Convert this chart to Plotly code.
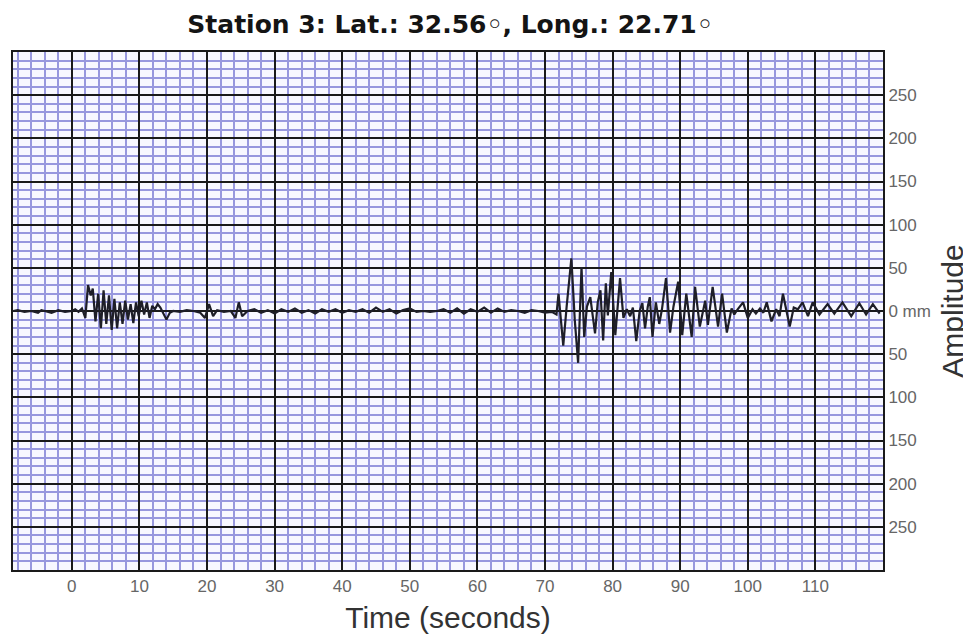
import plotly.graph_objects as go

# Time (s) and amplitude (mm)
time_s = [
    -8.7, -8, -7, -6, -5, -4.5, -4, -3, -2, -1, 0, 0.5, 1, 1.5,
    2.0, 2.4, 2.8, 3.1, 3.5, 3.9, 4.3, 4.7, 5.1, 5.5, 5.9, 6.3, 6.7, 7.1, 7.5, 7.9,
    8.3, 8.7, 9.1, 9.5, 9.9, 10.3, 10.7, 11.1, 11.5, 11.9, 12.3, 12.7, 13.1, 13.5, 14.0, 14.5, 15,
    16, 17, 18, 19, 19.7, 20.3, 20.9, 21.5, 22.5, 23.5, 24.2, 24.7, 25.2, 26, 27, 28, 29, 30,
    31, 32, 33, 34, 35, 36, 37, 38, 39, 40, 41, 42, 43, 44, 45, 46, 47, 48, 49, 50,
    51, 52, 53, 54, 55, 56, 57, 58, 59, 60, 61, 62, 63, 64, 65, 66, 67, 68, 69, 70, 71, 71.7,
    72.0, 72.7, 73.2, 73.9, 74.4, 74.9, 75.4, 75.8, 76.2, 76.7, 77.1, 77.4, 77.8, 78.2, 78.6,
    79.0, 79.3, 79.8, 80.4, 81.1, 81.6, 82.1, 82.6, 83.0, 83.5, 84.0, 84.4, 84.8, 85.2, 85.5,
    85.9, 86.4, 86.9, 87.3, 87.9, 88.5, 89.0, 89.7, 90.3, 90.9, 91.7, 92.2, 92.9, 93.7, 94.1,
    94.8, 95.6, 96.2, 96.9, 97.6, 98.0, 98.5, 99.3, 100.0, 100.7, 101.2, 101.8, 102.3, 102.8,
    103.5, 104.2, 104.7, 105.2, 105.7, 106.2, 106.8, 107.4, 108.1, 108.9, 109.6, 110.6, 111.8,
    112.8, 114.0, 115.3, 116.5, 117.5, 118.5, 119.5,
]
amplitude_mm = [
    0, 1, -1, 0, -2, 1, 0, -2, 1, -1, 0, 2, -1, 3,
    -8, 30, 18, 26, -12, 20, -20, 24, -15, 18, -22, 14, -20, 10, -15, 12,
    -10, 8, -14, 10, -6, 12, -4, 10, -8, 6, 2, 8, 4, -2, -10, -2, 0,
    -1, 1, 0, -2, -8, 8, -6, 1, -1, 0, -8, 10, -6, 0, 2, -2, 1, -3,
    2, -1, 3, -2, 1, -3, 2, -1, 2, -2, 1, -1, 2, -2, 4, -1, 2, -3, 1, 3,
    -1, 0, -1, 0, 2, -2, 3, -3, 2, -1, 4, -2, 3, -1, 1, 0, -2, 1, 0, -2, -1, -4,
    20, -40, 5, 61, -10, -60, 51, -30, 5, 16, -8, -26, 10, 24, -34,
    32, -5, 45, -28, 38, -8, 2, -6, 4, -35, 0, 9, -20, 5, 16,
    -30, 10, -15, 2, 38, -25, 5, 34, -28, 20, -30, 28, -18, 12, -16,
    28, -18, 20, -25, 3, -4, 2, 10, -8, 2, -3, 3, -2, 10,
    -12, 2, -6, 20, 0, -18, 4, 2, 10, -6, 10, -4, 8,
    -3, 10, -6, 9, -4, 8, -3,
]

x_tick_vals = [0, 10, 20, 30, 40, 50, 60, 70, 80, 90, 100, 110]
y_tick_vals = [250, 200, 150, 100, 50, 0, -50, -100, -150, -200, -250]
y_tick_text = ["250", "200", "150", "100", "50", "0 mm", "50", "100", "150", "200", "250"]

fig = go.Figure()
fig.add_trace(go.Scatter(
    x=time_s, y=amplitude_mm, mode="lines",
    line=dict(color="#1e1e28", width=2.2),
    showlegend=False, hoverinfo="skip",
))

fig.update_layout(
    width=963, height=631,
    margin=dict(l=3, r=88, t=44, b=69),
    paper_bgcolor="white",
    plot_bgcolor="#f8f8ff",
    title=dict(
        text="<b>Station 3: Lat.: 32.56◦, Long.: 22.71◦</b>",
        x=0.459, xanchor="center", y=0.975, yanchor="middle",
        font=dict(family="DejaVu Sans, sans-serif", size=25, color="#141414"),
    ),
    showlegend=False,
)

fig.update_xaxes(
    range=[-8.7, 120], tickmode="array", tickvals=x_tick_vals,
    ticks="", showgrid=True, gridcolor="#1a1a1a", gridwidth=1.6,
    zeroline=False, showline=True, linecolor="#1a1a1a", linewidth=2, mirror=True,
    minor=dict(dtick=2, tick0=0, showgrid=True, gridcolor="#9898de", gridwidth=1.5),
    tickfont=dict(family="Liberation Sans, Arial, sans-serif", size=17, color="#666666"),
    title=dict(text="Time (seconds)", standoff=12,
               font=dict(family="Liberation Sans, Arial, sans-serif", size=30, color="#333333")),
)
fig.update_yaxes(
    range=[-300, 300], side="right", tickmode="array",
    tickvals=y_tick_vals, ticktext=y_tick_text,
    ticks="", showgrid=True, gridcolor="#1a1a1a", gridwidth=1.6,
    zeroline=False, showline=True, linecolor="#1a1a1a", linewidth=2, mirror=True,
    minor=dict(dtick=10, tick0=0, showgrid=True, gridcolor="#9898de", gridwidth=1.5),
    ticklabelstandoff=0,
    tickfont=dict(family="Liberation Sans, Arial, sans-serif", size=17, color="#666666"),
    title=dict(text="Amplitude", standoff=12,
               font=dict(family="Liberation Sans, Arial, sans-serif", size=30, color="#333333")),
)

fig.write_html("out.html")
